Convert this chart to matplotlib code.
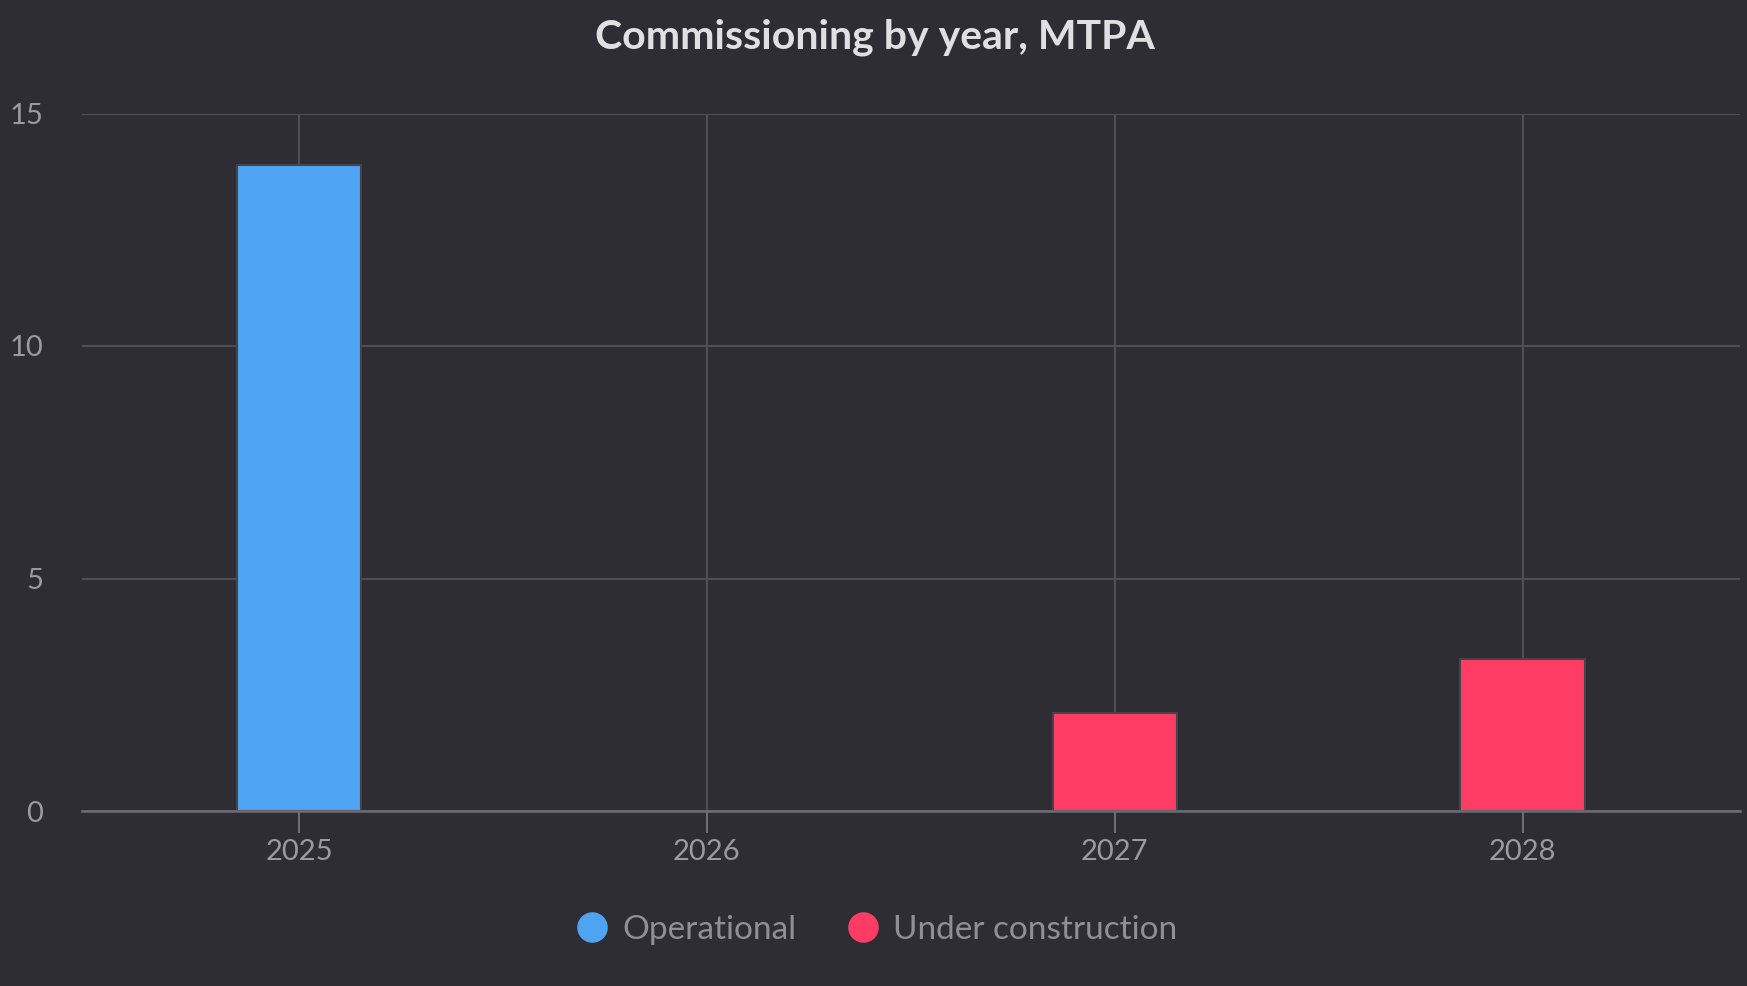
import numpy as np
import matplotlib
matplotlib.use("Agg")
import matplotlib.pyplot as plt
from matplotlib.lines import Line2D

# data
years = ["2025", "2026", "2027", "2028"]
operational = [13.9, np.nan, np.nan, np.nan]
under_construction = [np.nan, np.nan, 2.1, 3.27]
y_ticks = [0, 5, 10, 15]

bg = "#2e2d33"
blue = "#4ea4f2"
red = "#ff3d64"
grid_col = "#4f4e55"
axis_col = "#6e6d73"
label_col = "#9a9a9f"

plt.rcParams["font.family"] = ["Lato", "DejaVu Sans"]

fig = plt.figure(figsize=(17.47, 9.86), dpi=100, facecolor=bg)
ax = fig.add_axes([82 / 1747, 1 - 811 / 986, (1740 - 82) / 1747, (811 - 113.5) / 986])
ax.set_facecolor(bg)

x = np.arange(len(years))
w = 0.305
ax.bar(x, operational, width=w, color=blue, edgecolor="#45444d", linewidth=1.5, zorder=3)
ax.bar(x, under_construction, width=w, color=red, edgecolor="#45444d", linewidth=1.5, zorder=3)

ax.set_xlim(-0.532, 3.533)
ax.set_ylim(0, 15)
ax.set_xticks(x)
ax.set_xticklabels(years)
ax.set_yticks(y_ticks)

ax.grid(True, color=grid_col, linewidth=1.5)
ax.set_axisbelow(True)
for s in ["left", "right", "top"]:
    ax.spines[s].set_visible(False)
ax.spines["bottom"].set_color(axis_col)
ax.spines["bottom"].set_linewidth(1.8)
ax.spines["bottom"].set_zorder(4)

ax.tick_params(axis="x", colors=axis_col, length=16, width=1.5, pad=4,
               labelcolor=label_col, labelsize=21)
ax.tick_params(axis="y", length=0, pad=28, labelcolor=label_col, labelsize=21)

fig.text(875 / 1747, 1 - 49 / 986, "Commissioning by year, MTPA", ha="center",
         va="baseline", color="#e0e0e3", fontsize=29.5, fontweight="bold")

handles = [
    Line2D([], [], marker="o", linestyle="none", markersize=21, color=blue),
    Line2D([], [], marker="o", linestyle="none", markersize=21, color=red),
]
fig.legend(handles, ["Operational", "Under construction"], loc="center",
           bbox_to_anchor=(876 / 1747, 1 - 930 / 986), ncol=2, frameon=False,
           fontsize=24, labelcolor="#8f8f95", handlelength=1.0,
           handletextpad=0.4, columnspacing=1.5)

fig.savefig("out.png", dpi=100, facecolor=bg)
